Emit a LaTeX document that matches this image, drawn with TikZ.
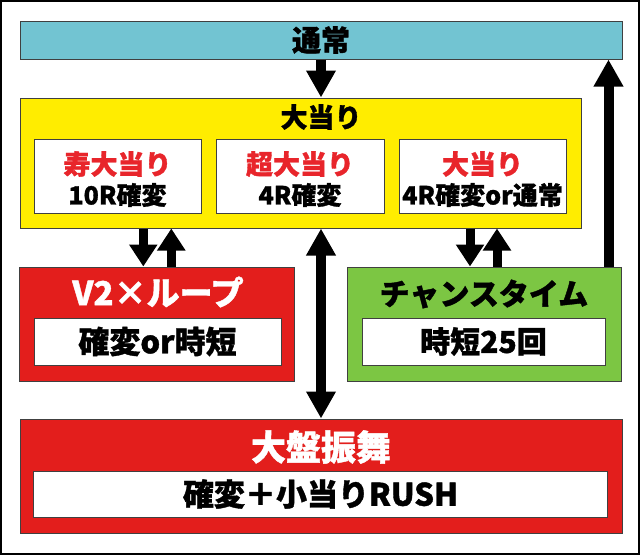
\documentclass[tikz,border=0pt]{standalone}
\usepackage{fontspec}
\setmainfont{Noto Sans CJK JP}[BoldFeatures={FakeBold=1.2}]
\usetikzlibrary{arrows.meta}

\definecolor{tsujocyan}{RGB}{114,196,210}
\definecolor{atariyellow}{RGB}{255,237,0}
\definecolor{boxred}{RGB}{227,30,28}
\definecolor{chancegreen}{RGB}{124,198,67}
\definecolor{textred}{RGB}{232,37,43}

\begin{document}
\begin{tikzpicture}[x=1pt,y=-1pt,
    caja/.style={draw=black!75, line width=1pt, inner sep=0pt},
    blanca/.style={caja, fill=white},
    texto/.style={inner sep=0pt, font=\bfseries\fontsize{#1}{#1}\selectfont},
    flecha/.style={line width=10pt, -{Triangle[length=27pt,width=28pt]}},
    flechita/.style={line width=9pt, -{Triangle[length=22pt,width=27pt]}}]

            \useasboundingbox (0,0) rectangle (640,555);
            \draw[line width=2pt] (1,1) rectangle (639,554);

            %---------------- CAJAS ----------------
            \node[caja, fill=tsujocyan, minimum width=602pt, minimum height=38pt]
            (tsujo) at (321,40) {};

            \node[caja, fill=atariyellow, minimum width=561pt, minimum height=130pt]
            (atari) at (300.5,163) {};

            \node[blanca, minimum width=167pt, minimum height=74pt]
            (kotobuki) at (117.5,176) {};
            \node[blanca, minimum width=168pt, minimum height=74pt]
            (cho) at (300,176) {};
            \node[blanca, minimum width=167pt, minimum height=74pt]
            (oatari) at (482.5,176) {};

            \node[caja, fill=boxred, minimum width=275pt, minimum height=114pt]
            (v2) at (157.3,324) {};
            \node[blanca, minimum width=247pt, minimum height=47pt]
            (v2in) at (157.5,341.5) {};

            \node[caja, fill=chancegreen, minimum width=274pt, minimum height=114pt]
            (chance) at (484,324) {};
            \node[blanca, minimum width=243pt, minimum height=47pt]
            (chancein) at (483.5,341.5) {};

            \node[caja, fill=boxred, minimum width=602pt, minimum height=114pt]
            (daiban) at (321,476) {};
            \node[blanca, minimum width=574pt, minimum height=46pt]
            (daibanin) at (320.5,494) {};

            %---------------- TEXTOS ----------------
            \node[texto=29] (tsujot) at (321,40) {通常};
            \node[texto=27] (atarit) at (321,117) {大当り};

            \node[texto=27, textred] (kotobukit) at (117.5,164) {寿大当り};
            \node[texto=25] (kotobukis) at (117.5,195) {10R確変};
            \node[texto=27, textred] (chot) at (300,164) {超大当り};
            \node[texto=25] (chos) at (300,195) {4R確変};
            \node[texto=27, textred] (oatarit) at (482.5,164) {大当り};
            \node[texto=25] (oataris) at (482.5,195) {4R確変or通常};

            \node[texto=33, white] (v2t) at (158,292) {V2×ループ};
            \node[texto=31] (v2s) at (157.5,341.5) {確変or時短};

            \node[texto=30] (chancet) at (484,294) {チャンスタイム};
            \node[texto=30] (chances) at (483.5,341.5) {時短25回};

            \node[texto=35, white] (daibant) at (321,447) {大盤振舞};
            \node[texto=31] (daibans) at (320.5,494) {確変＋小当りRUSH};

            %---------------- FLECHAS ----------------
            \draw[flecha]
            (tsujo.south) -- (tsujo.south |- atari.north);

            \draw[flecha]
            ([xshift=-13pt]chance.north east) -- ([xshift=-13pt]chance.north east |- tsujo.south);

            \draw[flecha, {Triangle[length=27pt,width=28pt]}-{Triangle[length=27pt,width=28pt]}]
            (daiban.north |- atari.south) -- (daiban.north);

            % ida y vuelta
            \draw[flechita]
            ([xshift=-14pt]v2.north |- atari.south) -- ([xshift=-14pt]v2.north);
            \draw[flechita]
            ([xshift=14pt]v2.north) -- ([xshift=14pt]v2.north |- atari.south);

            \draw[flechita]
            ([xshift=-14pt]chance.north |- atari.south) -- ([xshift=-14pt]chance.north);
            \draw[flechita]
            ([xshift=13pt]chance.north) -- ([xshift=13pt]chance.north |- atari.south);

\end{tikzpicture}
\end{document}
